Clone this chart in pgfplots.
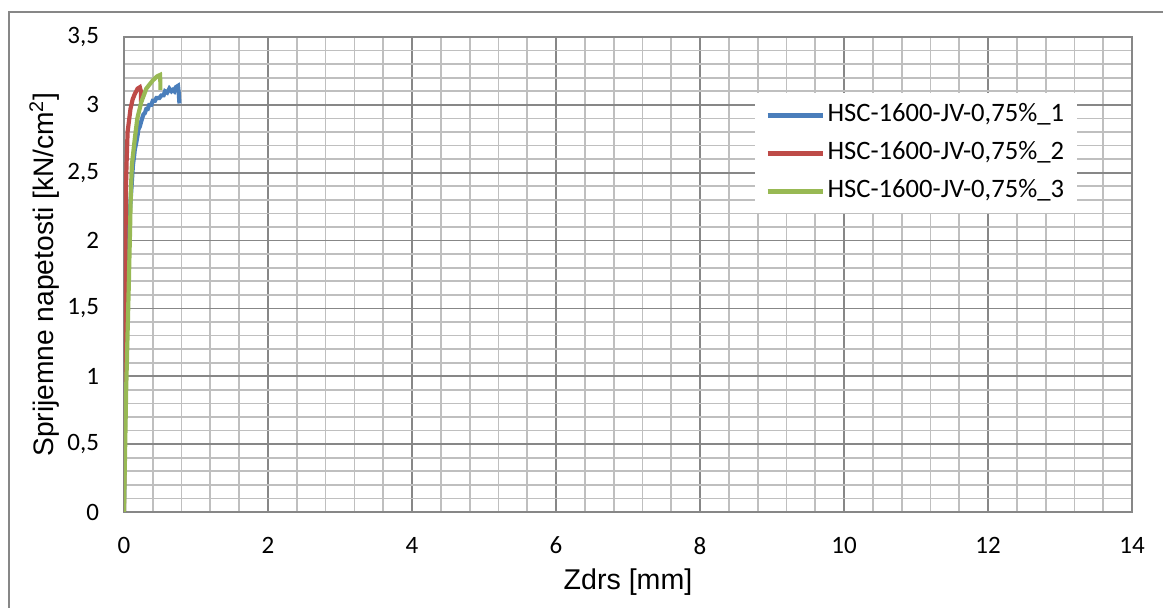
\documentclass[border=0pt]{standalone}
\usepackage{pgfplots}
\pgfplotsset{compat=1.18}
\usepackage{fontspec}
\setmainfont{Carlito}
\newfontfamily\arialf{Liberation Sans}
\definecolor{sblue}{HTML}{4A7EBB}
\definecolor{sred}{HTML}{BE4B48}
\definecolor{sgreen}{HTML}{98B954}
\definecolor{majgrid}{HTML}{878787}
\definecolor{mingrid}{HTML}{BFBFBF}
\begin{document}
\begin{tikzpicture}
\begin{axis}[
  scale only axis,
  width=504pt, height=237.5pt,
  xmin=0, xmax=14, ymin=0, ymax=3.5,
  xtick={0,2,...,14}, ytick={0,0.5,...,3.5},
  minor x tick num=4, minor y tick num=4,
  major tick length=0pt, minor tick length=0pt,
  grid=both,
  major grid style={draw=majgrid, line width=0.9pt},
  minor grid style={draw=mingrid, line width=0.9pt},
  axis line style={draw=majgrid, line width=0.9pt},
  /pgf/number format/.cd, use comma, 1000 sep={}, assume math mode=true,
  /pgfplots/.cd,
  tick label style={font=\fontsize{12.5}{15}\selectfont, text=black},
  xticklabel style={yshift=-9pt},
  yticklabel style={xshift=-9pt},
  xlabel={\arialf\fontsize{14.3}{17}\selectfont Zdrs [mm]},
  ylabel={\arialf\fontsize{14.1}{17}\selectfont Sprijemne napetosti [kN/cm\textsuperscript{2}]},
  xlabel style={at={(axis description cs:0.5,-0.147)}, anchor=center},
  ylabel style={at={(axis description cs:-0.079,0.5)}, anchor=center},
  legend style={at={(axis description cs:0.626,0.882)}, anchor=north west,
    draw=none, fill=white, inner xsep=5pt, inner ysep=4pt, row sep=5pt,
    font=\fontsize{13.3}{15}\selectfont,
    nodes={text height=9pt, text depth=3pt, inner xsep=1.5pt, inner ysep=1pt}},
  legend cell align=left,
  legend image code/.code={\draw[#1] (0pt,0pt) -- (27.5pt,0pt);},
]
\addplot[sblue, line width=2.1pt] coordinates {
(0,0) (0.01,0.5) (0.02,1.0) (0.04,1.6) (0.06,2.0) (0.08,2.2) (0.10,2.36)
(0.125,2.56) (0.14,2.62) (0.15,2.67) (0.17,2.72) (0.19,2.78) (0.20,2.82) (0.22,2.84) (0.24,2.88) (0.27,2.93)
(0.29,2.94) (0.31,2.97) (0.33,2.97) (0.35,3.0) (0.38,3.0) (0.40,3.03) (0.43,3.03) (0.45,3.05) (0.49,3.05) (0.52,3.07) (0.55,3.07) (0.57,3.10)
(0.60,3.09) (0.63,3.12) (0.66,3.10) (0.68,3.11) (0.70,3.10) (0.72,3.13) (0.75,3.14) (0.76,3.09) (0.77,3.01)
};
\addlegendentry{HSC-1600-JV-0,75\%\_1}
\addplot[sred, line width=2.1pt] coordinates {
(0,0) (0.005,0.5) (0.015,1.0) (0.02,1.8) (0.025,2.34) (0.035,2.56) (0.05,2.80)
(0.09,2.97) (0.12,3.04) (0.15,3.08) (0.19,3.12) (0.22,3.13) (0.235,3.10) (0.235,3.02)
};
\addlegendentry{HSC-1600-JV-0,75\%\_2}
\addplot[sgreen, line width=2.1pt] coordinates {
(0,0) (0.015,0.45) (0.03,0.9) (0.065,1.64) (0.085,2.1) (0.095,2.36) (0.11,2.56)
(0.15,2.75) (0.185,2.90) (0.24,3.02) (0.31,3.12) (0.40,3.18) (0.46,3.21)
(0.50,3.22) (0.505,3.17) (0.505,3.11)
};
\addlegendentry{HSC-1600-JV-0,75\%\_3}
\end{axis}
\pgfresetboundingbox
\path[use as bounding box] ([xshift=-62pt,yshift=-48pt]current axis.south west) rectangle ([xshift=15.5pt,yshift=18.5pt]current axis.north east);
\draw[majgrid, line width=0.6pt] ([xshift=-57.5pt,yshift=-70pt]current axis.south west) |- ([xshift=40pt,yshift=12.5pt]current axis.north east);
\end{tikzpicture}
\end{document}
